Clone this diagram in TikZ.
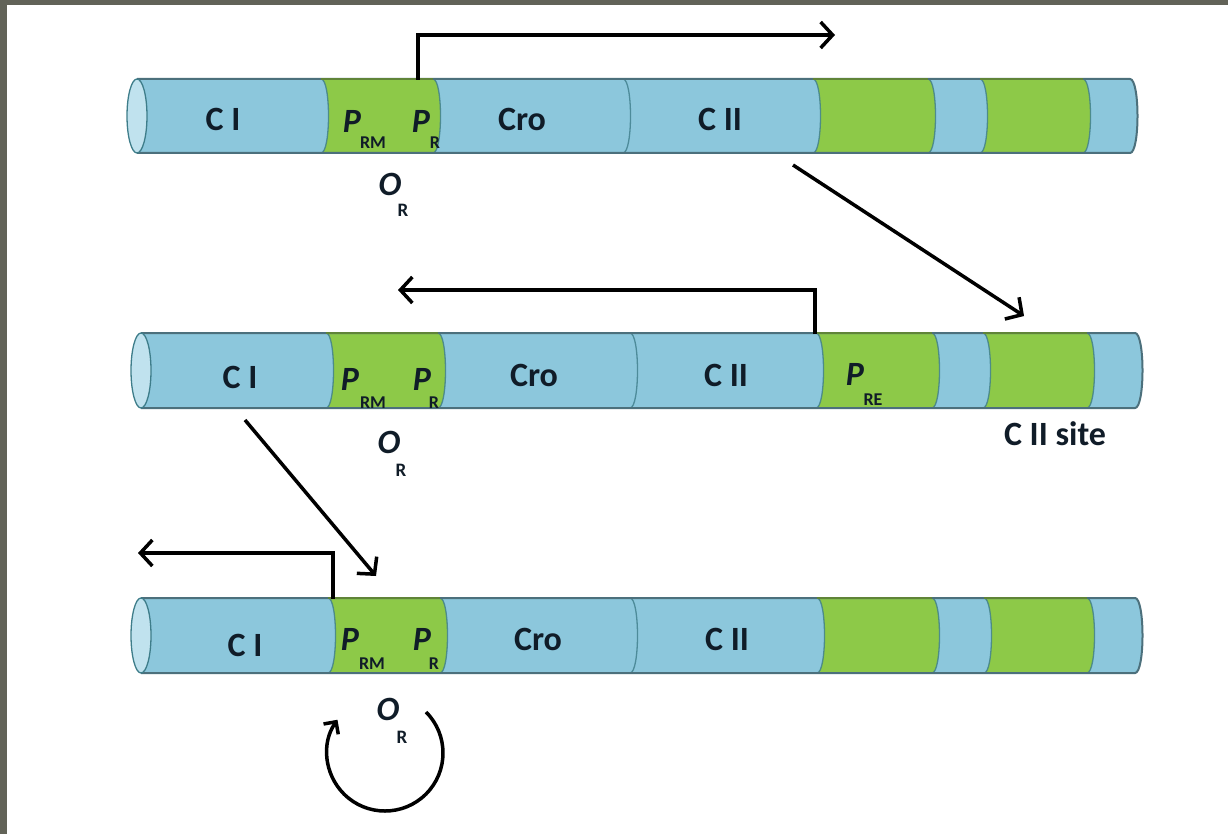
\documentclass[tikz,border=0pt]{standalone}
\usepackage{fontspec}
\setmainfont{Carlito}
\usetikzlibrary{arrows.meta}

\definecolor{tubeblue}{RGB}{140,199,220}
\definecolor{tubegreen}{RGB}{141,201,72}
\definecolor{greenedge}{RGB}{96,132,56}
\definecolor{capblue}{RGB}{192,226,238}
\definecolor{tubeedge}{RGB}{76,112,124}
\definecolor{segedge}{RGB}{62,125,138}
\definecolor{frame}{RGB}{98,99,88}
\definecolor{ink}{RGB}{16,28,40}

% one DNA tube: #1 left end, #2 right end, #3 top, #4 bottom,
% #5 green stretches (from/to), #6 segment boundaries
\newcommand\dnatube[6]{%
  \fill[tubeblue] (#1,#3) -- (#2,#3) .. controls (#2+\bk,#3) and (#2+\bk,#4) .. (#2,#4) -- (#1,#4) -- cycle;
  \foreach \ga/\gb in {#5}
    \fill[tubegreen] (\ga,#3) -- (\gb,#3) .. controls (\gb+\bk,#3) and (\gb+\bk,#4) .. (\gb,#4)
      -- (\ga,#4) .. controls (\ga+\bk,#4) and (\ga+\bk,#3) .. (\ga,#3) -- cycle;
  \foreach \bx in {#6}
    \draw[segline] (\bx,#3) .. controls (\bx+\bk,#3) and (\bx+\bk,#4) .. (\bx,#4);
  \draw[tubeline] (#1,#3) -- (#2,#3) .. controls (#2+\bk,#3) and (#2+\bk,#4) .. (#2,#4) -- (#1,#4);
  \foreach \ga/\gb in {#5}
    \draw[greenline] (\ga,#3) -- (\gb,#3);
  \draw[capline] ({#1},{(#3+#4)/2}) ellipse[x radius=10, y radius={(#4-#3)/2}];
}
\def\bk{10}

\begin{document}
\begin{tikzpicture}[x=1pt, y=-1pt,
  segline/.style={draw=segedge, line width=1.3pt, opacity=0.8},
  tubeline/.style={draw=tubeedge, line width=2pt},
  greenline/.style={draw=greenedge, line width=2pt},
  capline/.style={draw=segedge, line width=1.3pt, fill=capblue},
  gene/.style={font=\bfseries\fontsize{34}{40}\selectfont, text=ink, inner sep=0pt},
  prom/.style={font=\bfseries\itshape\fontsize{34}{40}\selectfont, text=ink, inner sep=0pt},
  subs/.style={font=\bfseries\fontsize{18}{21}\selectfont, text=ink, inner sep=0pt},
  oper/.style={font=\bfseries\itshape\fontsize{34}{40}\selectfont, text=ink, inner sep=0pt},
  osub/.style={font=\bfseries\fontsize{19}{22}\selectfont, text=ink, inner sep=0pt},
  arr/.style={line width=3.5pt, -{Straight Barb[length=12pt,width=26pt,line width=3.5pt]}}]

\useasboundingbox (0,0) rectangle (1228,834);
\fill[white] (0,0) rectangle (1228,834);
\fill[frame] (0,0) rectangle (7,834);
\fill[frame] (0,0) rectangle (1228,5);

% ---- first tube: transcription from P_R ----
\dnatube{137}{1130}{79}{153}{321/433,813/928,980/1083}{321,433,623,813,928,980,1083}
\node[gene] (aci)  at (223,119) {C I};
\node[prom] (aprm) at (352,121) {P};
\node[subs] (arm)  at (373,143) {RM};
\node[prom] (apr)  at (421,121) {P};
\node[subs] (ar)   at (435,143) {R};
\node[gene] (acro) at (522,119) {Cro};
\node[gene] (acii) at (720,119) {C II};
\node[oper] (ao)   at (390,184) {O};
\node[osub] (aor)  at (403,210) {R};

\coordinate (astart) at (418,80);
\coordinate (aend)   at (835,35);
\draw[arr] (astart) |- (aend);

\coordinate (d1s) at (793,165);
\coordinate (d1e) at (1024,316);
\draw[arr] (d1s) -- (d1e);

% ---- second tube: transcription from P_RE ----
\dnatube{141}{1135}{333}{408}{326/438,816/932,983/1087}{326,438,630,816,932,983,1087}
\node[gene] (bci)  at (240,377) {C I};
\node[prom] (bprm) at (350,379) {P};
\node[subs] (brm)  at (373,403) {RM};
\node[prom] (bpr)  at (422,379) {P};
\node[subs] (br)   at (434,403) {R};
\node[gene] (bcro) at (534,375) {Cro};
\node[gene] (bcii) at (726,375) {C II};
\node[prom] (bpre) at (855,374) {P};
\node[subs] (bre)  at (873,400) {RE};
\node[gene] (bsite) at (1055,434) {C II site};
\node[oper] (bo)   at (389,442) {O};
\node[osub] (bor)  at (401,470) {R};

\coordinate (bstart) at (815,334);
\coordinate (bend)   at (398,290);
\draw[arr] (bstart) |- (bend);

\coordinate (d2s) at (245,420);
\coordinate (d2e) at (376,576);
\draw[arr] (d2s) -- (d2e);

% ---- third tube: maintenance from P_RM ----
\dnatube{141}{1135}{598}{673}{328/440,817/932,984/1087}{328,440,630,817,932,984,1087}
\node[gene] (cci)  at (245,645) {C I};
\node[prom] (cprm) at (350,639) {P};
\node[subs] (crm)  at (372,664) {RM};
\node[prom] (cpr)  at (422,639) {P};
\node[subs] (cr)   at (434,664) {R};
\node[gene] (ccro) at (538,639) {Cro};
\node[gene] (ccii) at (727,639) {C II};
\node[oper] (co)   at (388,709) {O};
\node[osub] (cor)  at (402,737) {R};

\coordinate (cstart) at (333,599);
\coordinate (cend)   at (138,553);
\draw[arr] (cstart) |- (cend);

% feedback loop round the operator
\coordinate (loopstart) at (426,712);
\draw[line width=3.5pt, -{Straight Barb[length=9pt,width=18pt,line width=3.5pt]}]
  (loopstart) arc[start angle=-45, end angle=215, radius=58];

\end{tikzpicture}
\end{document}
